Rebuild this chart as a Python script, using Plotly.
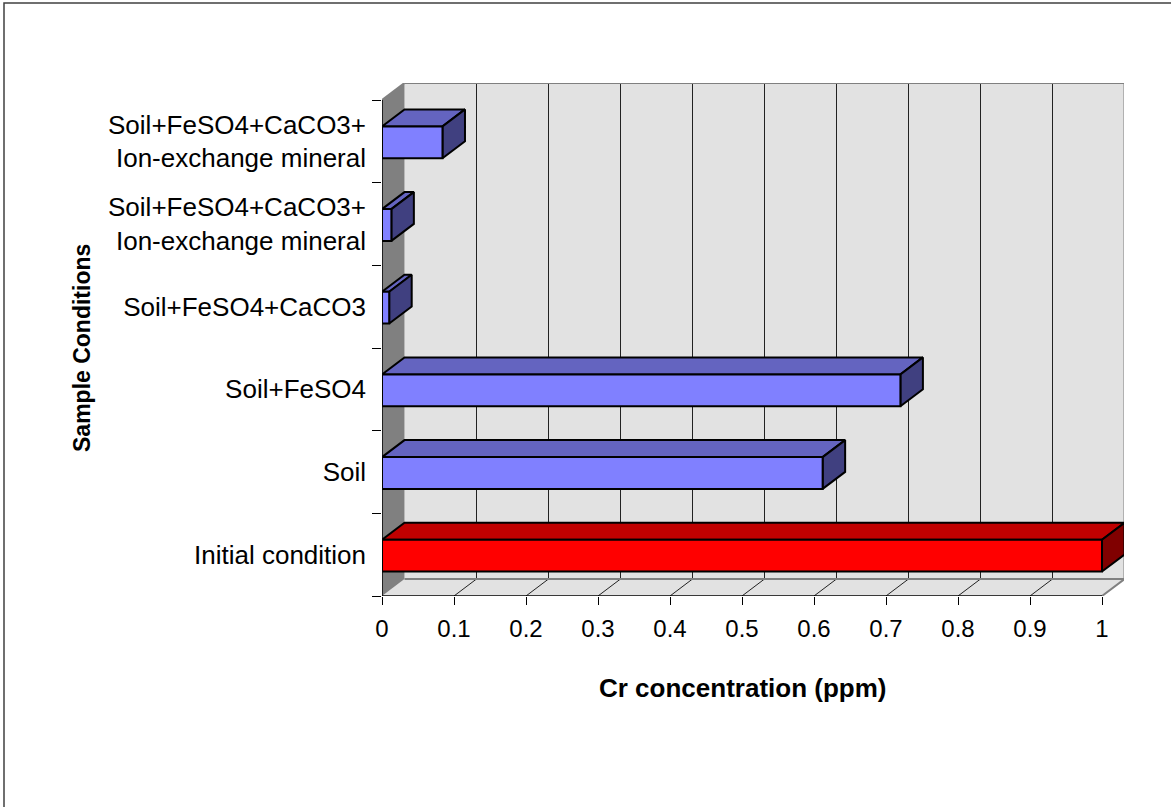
import plotly.graph_objects as go

# ---- data -------------------------------------------------------------
categories = [
    "Initial condition",
    "Soil",
    "Soil+FeSO4",
    "Soil+FeSO4+CaCO3",
    "Soil+FeSO4+CaCO3+<br>Ion-exchange mineral",
    "Soil+FeSO4+CaCO3+<br>Ion-exchange mineral",
]
cr_ppm = [1.0, 0.612, 0.72, 0.01, 0.013, 0.084]
x_ticks = [0, 0.1, 0.2, 0.3, 0.4, 0.5, 0.6, 0.7, 0.8, 0.9, 1.0]
x_tick_labels = ["0", "0.1", "0.2", "0.3", "0.4", "0.5", "0.6", "0.7", "0.8", "0.9", "1"]

# ---- styling ----------------------------------------------------------
FONT = "Liberation Sans, Arial, sans-serif"
BLUE = ("#8080FF", "#6464C0", "#404080")   # front, top, side
RED = ("#FF0000", "#C00000", "#800000")
bar_styles = [RED] + [BLUE] * (len(categories) - 1)

W, H = 1171, 807
M_L, M_R, M_T, M_B = 382, 47, 83, 211
PLOT_W = W - M_L - M_R
PLOT_H = H - M_T - M_B
PX_PER_X = 720.0                 # pixels per 1 ppm on the front plane
N = len(categories)
DEPTH_PX_X, DEPTH_PX_Y = 22.5, 17.0
PX_PER_Y = (PLOT_H - DEPTH_PX_Y) / N
DX = DEPTH_PX_X / PX_PER_X       # depth offset in data units
DY = DEPTH_PX_Y / PX_PER_Y
X_RANGE = [0, PLOT_W / PX_PER_X]
Y_RANGE = [0, N + DY]
BAR_H = 0.385
BAR_C = 0.488
XMAX = x_ticks[-1]


def paper_x(px):
    return (px - M_L) / PLOT_W


def paper_y(py):
    return (H - M_B - py) / PLOT_H


fig = go.Figure()

# ---- 3-D bars: top face, side face, front face ------------------------
for i, (v, (c_front, c_top, c_side)) in enumerate(zip(cr_ppm, bar_styles)):
    y0 = i + BAR_C - BAR_H / 2
    y1 = i + BAR_C + BAR_H / 2
    faces = [
        ([0, v, v + DX, DX, 0], [y1, y1, y1 + DY, y1 + DY, y1], c_top),
        ([v, v, v + DX, v + DX, v], [y0, y1, y1 + DY, y0 + DY, y0], c_side),
        ([0, v, v, 0, 0], [y0, y0, y1, y1, y0], c_front),
    ]
    for xs, ys, col in faces:
        fig.add_trace(go.Scatter(
            x=xs, y=ys, mode="lines", fill="toself", fillcolor=col,
            line=dict(color="black", width=2), hoverinfo="skip",
            showlegend=False,
        ))

# ---- walls, floor and gridlines ----------------------------------------
shapes = []
WALL = "#E2E2E2"
EDGE = "#808080"
# back wall
shapes.append(dict(type="rect", xref="x", yref="y", x0=DX, x1=XMAX + DX,
                   y0=DY, y1=N + DY, fillcolor=WALL, line=dict(width=0),
                   layer="below"))
# floor
shapes.append(dict(type="path", xref="x", yref="y",
                   path=f"M0,0 L{XMAX},0 L{XMAX + DX},{DY} L{DX},{DY} Z",
                   fillcolor=WALL, line=dict(width=0), layer="below"))
# side wall
shapes.append(dict(type="path", xref="x", yref="y",
                   path=f"M0,0 L{DX},{DY} L{DX},{N + DY} L0,{N} Z",
                   fillcolor="#808080", line=dict(width=0), layer="below"))
# vertical gridlines on back wall and diagonals on floor
for t in x_ticks[1:-1]:
    shapes.append(dict(type="line", xref="x", yref="y", x0=t + DX, x1=t + DX,
                       y0=DY, y1=N + DY, line=dict(color="#222222", width=1),
                       layer="below"))
    shapes.append(dict(type="line", xref="x", yref="y", x0=t, x1=t + DX,
                       y0=0, y1=DY, line=dict(color="#222222", width=1),
                       layer="below"))
# wall edges
for x0, y0, x1, y1 in [
    (DX, N + DY, XMAX + DX, N + DY),
    (XMAX + DX, DY, XMAX + DX, N + DY),
    (DX, DY, XMAX + DX, DY),
    (XMAX, 0, XMAX + DX, DY),
    (0, N, DX, N + DY),
]:
    shapes.append(dict(type="line", xref="x", yref="y", x0=x0, y0=y0,
                       x1=x1, y1=y1, line=dict(color=EDGE, width=2),
                       layer="below"))
# front axis lines
shapes.append(dict(type="line", xref="x", yref="y", x0=0, x1=XMAX, y0=0, y1=0,
                   line=dict(color="black", width=1.5)))
shapes.append(dict(type="line", xref="x", yref="y", x0=0, x1=0, y0=0, y1=N,
                   line=dict(color="black", width=1.5)))
# outer chart border
shapes.append(dict(type="rect", xref="paper", yref="paper",
                   x0=paper_x(4), x1=paper_x(W + 10),
                   y0=paper_y(H + 10), y1=paper_y(3),
                   line=dict(color="#404040", width=1.5),
                   fillcolor="rgba(0,0,0,0)"))

annotations = [
    dict(text="<b>Cr concentration (ppm)</b>", xref="x", x=XMAX / 2,
         yref="paper", y=paper_y(688), showarrow=False,
         font=dict(family=FONT, size=26, color="black"),
         xanchor="center", yanchor="middle"),
    dict(text="<b>Sample Conditions</b>", xref="paper", x=paper_x(82),
         yref="y", y=N / 2, showarrow=False, textangle=-90,
         font=dict(family=FONT, size=23, color="black"),
         xanchor="center", yanchor="middle"),
]

fig.update_layout(
    width=W, height=H, autosize=False,
    margin=dict(l=M_L, r=M_R, t=M_T, b=M_B, pad=0),
    paper_bgcolor="white", plot_bgcolor="white",
    showlegend=False, hovermode=False,
    shapes=shapes, annotations=annotations,
    font=dict(family=FONT, color="black"),
    xaxis=dict(
        range=X_RANGE, tickvals=x_ticks, ticktext=x_tick_labels,
        ticks="outside", ticklen=8, tickwidth=1, tickcolor="black",
        showgrid=False, zeroline=False, showline=False,
        tickfont=dict(family=FONT, size=24, color="black"),
        ticklabelstandoff=3, fixedrange=True,
    ),
    yaxis=dict(
        range=Y_RANGE, tickvals=[i + 0.5 for i in range(N)],
        ticktext=categories, ticks="", showgrid=False, zeroline=False,
        showline=False,
        tickfont=dict(family=FONT, size=26, color="black"),
        ticklabelstandoff=15, fixedrange=True,
        minor=dict(tick0=0, dtick=1, ticks="outside", ticklen=9,
                   tickwidth=1, tickcolor="black", showgrid=False),
    ),
)

fig.write_html("out.html")
